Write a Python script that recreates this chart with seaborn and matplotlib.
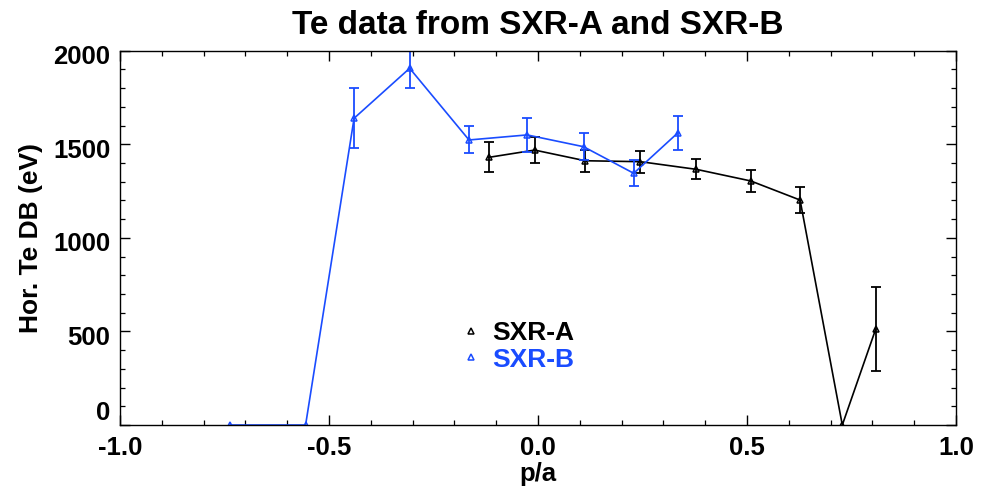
import numpy as np
import pandas as pd
import matplotlib
matplotlib.use("Agg")
import matplotlib.pyplot as plt
from matplotlib.ticker import MultipleLocator
from matplotlib.lines import Line2D
from matplotlib.transforms import ScaledTranslation
import seaborn as sns

# SXR-A (black)
xa = [-0.118, -0.008, 0.113, 0.245, 0.379, 0.509, 0.627, 0.728, 0.808]
ya = [1430, 1469, 1412, 1407, 1366, 1304, 1202, 0, 513]
ea = [80, 69, 58, 59, 54, 60, 68, 0, 222]

# SXR-B (blue)
xb = [-0.737, -0.556, -0.440, -0.307, -0.165, -0.026, 0.109, 0.229, 0.335]
yb = [0, 0, 1639, 1906, 1523, 1550, 1487, 1345, 1562]
eb = [0, 0, 160, 104, 72, 90, 73, 70, 91]

series_names = ["SXR-A", "SXR-B"]
title = "Te data from SXR-A and SXR-B"
xlabel = "p/a"
ylabel = "Hor. Te DB (eV)"

BLUE = "#1a4cff"
BLACK = "#000000"

sns.set_theme(style="ticks")
plt.rcParams["font.family"] = ["Liberation Sans", "DejaVu Sans"]
plt.rcParams["font.weight"] = "bold"
plt.rcParams["axes.unicode_minus"] = False
plt.rcParams["text.color"] = "black"
plt.rcParams["axes.labelcolor"] = "black"
plt.rcParams["xtick.color"] = "black"
plt.rcParams["ytick.color"] = "black"

fig = plt.figure(figsize=(9.82, 4.99), dpi=100)
ax = fig.add_axes([120 / 982, 1 - 425 / 499, (956 - 120) / 982, (425 - 50.7) / 499])

dfa = pd.DataFrame({"x": xa, "y": ya, "e": ea})
dfb = pd.DataFrame({"x": xb, "y": yb, "e": eb})

for df, col in ((dfa, BLACK), (dfb, BLUE)):
    sns.lineplot(data=df, x="x", y="y", ax=ax, color=col, linewidth=1.2,
                 marker="^", markersize=4.5, markerfacecolor="none",
                 markeredgecolor=col, markeredgewidth=1.1, sort=False)
    m = df["e"] > 0
    ax.errorbar(df.loc[m, "x"], df.loc[m, "y"], yerr=df.loc[m, "e"], fmt="none",
                ecolor=col, elinewidth=1.3, capsize=3.3, capthick=1.3)

ax.set_xlim(-1, 1)
ax.set_ylim(0, 2000)
ax.xaxis.set_minor_locator(MultipleLocator(0.1))
ax.yaxis.set_major_locator(MultipleLocator(500))
ax.yaxis.set_minor_locator(MultipleLocator(100))
ax.set_xticks([-1.0, -0.5, 0.0, 0.5, 1.0])
ax.set_xticklabels(["-1.0", "-0.5", "0.0", "0.5", "1.0"])
ax.set_yticks([0, 500, 1000, 1500, 2000])
ax.set_yticklabels(["0", "500", "1000", "1500", "2000"])
ax.tick_params(which="both", direction="in", top=True, right=True, color="black")
ax.tick_params(which="major", length=7, width=1.0, labelsize=18.5, pad=7)
ax.tick_params(axis="x", which="major", pad=8)
ax.tick_params(which="minor", length=3.5, width=0.9)
for lab in ax.get_xticklabels() + ax.get_yticklabels():
    lab.set_fontweight("bold")
# shift y tick labels slightly as in the reference (bottom label raised)
for lab in ax.get_yticklabels():
    if lab.get_text() == "0":
        lab.set_transform(lab.get_transform() + ScaledTranslation(0, 14 / 100, fig.dpi_scale_trans))
    else:
        lab.set_transform(lab.get_transform() + ScaledTranslation(0, -4 / 100, fig.dpi_scale_trans))
for s in ax.spines.values():
    s.set_visible(True)
    s.set_color("black")
    s.set_linewidth(1.0)

ax.set_title(title, fontsize=24, fontweight="bold", pad=12)
ax.set_xlabel(xlabel, fontsize=18.5, fontweight="bold", labelpad=1)
ax.set_ylabel(ylabel, fontsize=19, fontweight="bold", labelpad=7)

handles = [Line2D([], [], linestyle="none", marker="^", markersize=4.5,
                  markerfacecolor="none", markeredgecolor=c, markeredgewidth=1.1)
           for c in (BLACK, BLUE)]
leg = ax.legend(handles, series_names, loc="center left",
                bbox_to_anchor=(0.392, 0.21), frameon=False, handlelength=0.8,
                handletextpad=0.4, labelspacing=0.1, borderpad=0,
                prop={"size": 19, "weight": "bold"})
for t, c in zip(leg.get_texts(), (BLACK, BLUE)):
    t.set_color(c)

fig.savefig("out.png", dpi=100, facecolor="white")
